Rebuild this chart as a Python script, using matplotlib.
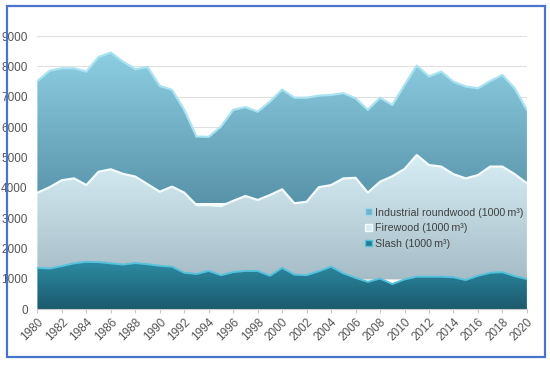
import numpy as np
import matplotlib.pyplot as plt
from matplotlib.colors import LinearSegmentedColormap
from matplotlib.patches import Patch, Rectangle

plt.rcParams['font.family'] = ['Liberation Sans', 'DejaVu Sans']

years = list(range(1980, 2021))
# values (1000 m3), stacked
slash = [1.36, 1.34, 1.42, 1.51, 1.56, 1.55, 1.51, 1.47, 1.52, 1.48, 1.43,
         1.40, 1.20, 1.16, 1.26, 1.12, 1.22, 1.26, 1.26, 1.10, 1.36,
         1.14, 1.12, 1.25, 1.40, 1.18, 1.03, 0.90, 1.01, 0.83, 0.98,
         1.07, 1.07, 1.07, 1.05, 0.96, 1.10, 1.20, 1.22, 1.09, 0.99]
mid_total = [3.84, 4.02, 4.25, 4.31, 4.09, 4.53, 4.61, 4.46, 4.37, 4.12, 3.87,
             4.04, 3.84, 3.43, 3.43, 3.40, 3.57, 3.73, 3.60, 3.76, 3.95,
             3.49, 3.54, 4.02, 4.09, 4.31, 4.33, 3.84, 4.20, 4.38, 4.62,
             5.08, 4.75, 4.70, 4.45, 4.31, 4.42, 4.70, 4.70, 4.45, 4.15]
top_total = [7.52, 7.86, 7.94, 7.94, 7.83, 8.31, 8.46, 8.16, 7.91, 7.98, 7.36,
             7.23, 6.57, 5.69, 5.68, 6.02, 6.57, 6.66, 6.51, 6.84, 7.24,
             6.97, 6.97, 7.04, 7.06, 7.12, 6.95, 6.57, 6.97, 6.73, 7.39,
             8.03, 7.67, 7.83, 7.50, 7.34, 7.28, 7.52, 7.72, 7.28, 6.57]

slash = np.array(slash) * 1000
firewood = np.array(mid_total) * 1000 - slash
industrial = np.array(top_total) * 1000 - np.array(mid_total) * 1000

x = np.array(years)
y0 = np.zeros(len(x))
y1 = slash
y2 = y1 + firewood
y3 = y2 + industrial

fig = plt.figure(figsize=(5.5, 3.65), dpi=100)
ax = fig.add_axes([0.068, 0.153, 0.89, 0.748])


def grad_fill(lo, hi, c_bot, c_top, g_lo, g_hi):
    poly = ax.fill_between(x, lo, hi, color='none', lw=0)
    cmap = LinearSegmentedColormap.from_list('g', [c_bot, c_top])
    grad = np.linspace(0, 1, 256).reshape(-1, 1)
    im = ax.imshow(grad, cmap=cmap, origin='lower', aspect='auto',
                   extent=[x[0], x[-1], g_lo, g_hi], zorder=1)
    im.set_clip_path(poly.get_paths()[0], transform=ax.transData)


grad_fill(y2, y3, '#5893a9', '#8fd0e4', 3500, 8600)
grad_fill(y1, y2, '#a6bdc7', '#d6edf5', 1000, 5000)
grad_fill(y0, y1, '#1b5a6d', '#2c8ca5', 0, 1600)

ax.plot(x, y3, color='#a9e3f2', lw=1.6, zorder=3)
ax.plot(x, y2, color='#f4fbfd', lw=1.6, zorder=3)
ax.plot(x, y1, color='#55c2dc', lw=1.4, zorder=3)

ax.set_xlim(1980, 2020)
ax.set_ylim(0, 9000)
ax.set_yticks(range(0, 9001, 1000))
ax.set_xticks(range(1980, 2021, 2))
ax.set_xticklabels([str(v) for v in range(1980, 2021, 2)], rotation=45,
                   ha='right', va='top', rotation_mode='anchor')
ax.tick_params(axis='both', labelsize=8.5, colors='#555555')
ax.tick_params(axis='y', length=0, pad=7)
ax.tick_params(axis='x', length=3, color='#c8c8c8', pad=2)
ax.grid(axis='y', color='#e0e0e0', lw=0.8, zorder=0)
ax.set_axisbelow(True)
for s in ['top', 'right', 'left']:
    ax.spines[s].set_visible(False)
ax.spines['bottom'].set_color('#c8c8c8')

handles = [Patch(facecolor='#6fb4cb', edgecolor='#9fd8ea', label='Industrial roundwood (1000\u2009m\u00b3)'),
           Patch(facecolor='#d8ecf3', edgecolor='#f4fbfd', label='Firewood (1000\u2009m\u00b3)'),
           Patch(facecolor='#237a91', edgecolor='#55c2dc', label='Slash (1000\u2009m\u00b3)')]
leg = ax.legend(handles=handles, loc='upper left', bbox_to_anchor=(0.67, 0.372),
                frameon=False, fontsize=7.7, handlelength=0.6, handleheight=0.6,
                handletextpad=0.3, labelspacing=0.52, labelcolor='#404040',
                borderaxespad=0, borderpad=0)

fig.patches.append(Rectangle((7 / 550, 1 - 357 / 365), 538 / 550, 351 / 365,
                             transform=fig.transFigure, fill=False,
                             edgecolor='#4a74c9', lw=1.6))

fig.savefig('out.png', dpi=100)
